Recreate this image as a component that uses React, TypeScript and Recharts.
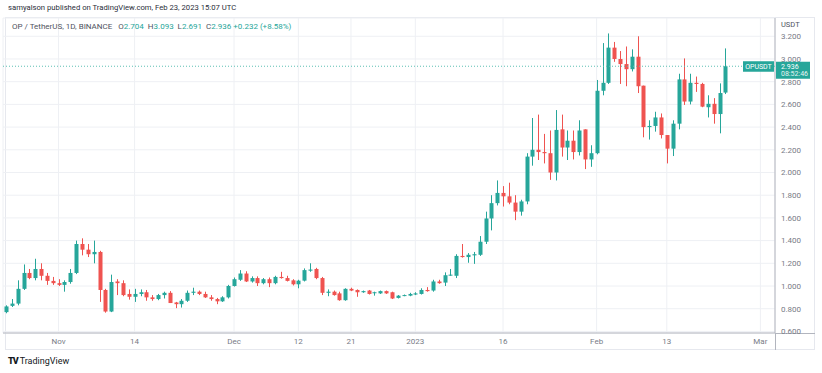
import React from "react";
import { ComposedChart, Bar, XAxis, YAxis, CartesianGrid, ReferenceLine } from "recharts";

// OP/USDT daily candles, Oct 23 2022 -> Feb 23 2023
const opens = [
  0.77, 0.825, 0.845, 0.975, 1.115, 1.07, 1.15, 1.09, 1.045, 1.025,
  1.01, 1.035, 1.115, 1.37, 1.32, 1.28, 1.3, 0.965, 0.775, 1.04,
  1.025, 0.93, 0.905, 0.93, 0.945, 0.9, 0.885, 0.92, 0.94, 0.855,
  0.84, 0.87, 0.94, 0.95, 0.93, 0.9, 0.885, 0.865, 0.9, 1.0,
  1.055, 1.11, 1.04, 1.07, 1.025, 1.06, 1.025, 1.08, 1.07, 1.05,
  1.015, 1.047, 1.135, 1.15, 1.07, 0.94, 0.95, 0.935, 0.875, 0.975,
  0.965, 0.945, 0.96, 0.94, 0.935, 0.955, 0.945, 0.895, 0.915, 0.915,
  0.925, 0.93, 0.965, 0.96, 1.04, 1.03, 1.095, 1.09, 1.265, 1.255,
  1.27, 1.275, 1.39, 1.595, 1.73, 1.82, 1.79, 1.735, 1.655, 1.745,
  2.14, 2.2, 2.18, 2.17, 2.0, 2.38, 2.22, 2.28, 2.18, 2.38,
  2.115, 2.17, 2.72, 2.79, 3.1, 3.0, 2.955, 2.91, 3.02, 2.765,
  2.4, 2.41, 2.485, 2.33, 2.21, 2.43, 2.82, 2.625, 2.79, 2.78,
  2.575, 2.605, 2.515, 2.704,
];
const highs = [
  0.83, 0.885, 1.05, 1.19, 1.15, 1.24, 1.2, 1.115, 1.08, 1.06,
  1.05, 1.15, 1.4, 1.42, 1.37, 1.4, 1.31, 0.975, 1.1, 1.06,
  1.05, 0.97, 0.975, 0.97, 0.965, 0.92, 0.93, 0.95, 0.955, 0.86,
  0.885, 0.96, 0.985, 0.96, 0.95, 0.92, 0.895, 0.91, 1.01, 1.075,
  1.14, 1.13, 1.085, 1.085, 1.07, 1.075, 1.09, 1.125, 1.09, 1.06,
  1.055, 1.155, 1.2, 1.16, 1.08, 0.97, 0.96, 0.95, 0.98, 0.985,
  0.97, 0.96, 0.965, 0.95, 0.96, 0.96, 0.95, 0.92, 0.925, 0.94,
  0.945, 0.98, 0.99, 1.055, 1.055, 1.12, 1.15, 1.28, 1.37, 1.29,
  1.3, 1.44, 1.655, 1.8, 1.93, 1.88, 1.91, 1.8, 1.76, 2.17,
  2.48, 2.51, 2.34, 2.37, 2.55, 2.51, 2.37, 2.37, 2.46, 2.38,
  2.24, 2.815, 3.14, 3.225, 3.15, 3.07, 3.11, 3.085, 3.2, 2.765,
  2.46, 2.535, 2.52, 2.33, 2.46, 2.87, 3.005, 2.87, 2.845, 2.79,
  2.68, 2.655, 2.785, 3.093,
];
const lows = [
  0.76, 0.815, 0.83, 0.965, 1.06, 1.05, 1.05, 1.01, 1.01, 1.0,
  0.95, 1.02, 1.105, 1.27, 1.255, 1.2, 0.86, 0.765, 0.77, 0.92,
  0.91, 0.88, 0.86, 0.91, 0.87, 0.87, 0.875, 0.89, 0.85, 0.805,
  0.81, 0.86, 0.92, 0.92, 0.895, 0.87, 0.84, 0.86, 0.89, 0.995,
  1.045, 1.035, 1.03, 1.0, 1.015, 0.99, 1.015, 1.065, 1.04, 1.005,
  0.98, 1.04, 1.125, 1.06, 0.92, 0.91, 0.915, 0.87, 0.87, 0.955,
  0.905, 0.94, 0.925, 0.915, 0.93, 0.93, 0.885, 0.89, 0.91, 0.91,
  0.92, 0.925, 0.95, 0.95, 1.02, 1.0, 1.09, 1.07, 1.25, 1.205,
  1.195, 1.265, 1.37, 1.49, 1.71, 1.7, 1.72, 1.58, 1.62, 1.72,
  2.06, 2.11, 2.08, 1.935, 1.93, 2.14, 2.11, 2.115, 2.15, 2.03,
  2.05, 2.16, 2.68, 2.78, 2.975, 2.78, 2.76, 2.89, 2.7, 2.31,
  2.29, 2.36, 2.3, 2.08, 2.145, 2.38, 2.595, 2.6, 2.71, 2.575,
  2.485, 2.43, 2.345, 2.691,
];
const closes = [
  0.82, 0.845, 0.975, 1.115, 1.07, 1.15, 1.09, 1.045, 1.025, 1.01,
  1.035, 1.115, 1.37, 1.32, 1.28, 1.3, 0.965, 0.775, 1.035, 1.025,
  0.92, 0.905, 0.93, 0.945, 0.9, 0.885, 0.92, 0.94, 0.85, 0.84,
  0.87, 0.94, 0.95, 0.93, 0.9, 0.885, 0.865, 0.9, 1.0, 1.06,
  1.11, 1.04, 1.07, 1.025, 1.06, 1.025, 1.08, 1.07, 1.045, 1.015,
  1.047, 1.14, 1.145, 1.07, 0.94, 0.95, 0.92, 0.875, 0.975, 0.96,
  0.945, 0.955, 0.93, 0.945, 0.955, 0.935, 0.89, 0.915, 0.92, 0.93,
  0.935, 0.965, 0.955, 1.04, 1.025, 1.095, 1.1, 1.265, 1.255, 1.275,
  1.28, 1.39, 1.595, 1.73, 1.82, 1.79, 1.735, 1.655, 1.745, 2.14,
  2.2, 2.18, 2.17, 2.0, 2.375, 2.22, 2.28, 2.18, 2.37, 2.115,
  2.17, 2.72, 2.79, 3.1, 3.0, 2.955, 2.91, 3.02, 2.76, 2.4,
  2.41, 2.485, 2.33, 2.21, 2.43, 2.82, 2.625, 2.79, 2.78, 2.58,
  2.605, 2.515, 2.7, 2.936,
];

const slotCount = 132; // empty days on the right up to the price axis
const xTicks = [9, 22, 39, 50, 59, 70, 85, 101, 113, 129];
const xTickLabels = ["Nov", "14", "Dec", "12", "21", "2023", "16", "Feb", "13", "Mar"];
const yTicks = [0.6, 0.8, 1.0, 1.2, 1.4, 1.6, 1.8, 2.0, 2.2, 2.4, 2.6, 2.8, 3.0, 3.2];
const lastPrice = 2.936;
const countdown = "08:52:46";

const GREEN = "#26a69a";
const RED = "#ef5350";
const FONT = "Roboto, 'Noto Sans', sans-serif";

const rows = Array.from({ length: slotCount }, (_, i) => ({
  i,
  o: opens[i],
  h: highs[i],
  l: lows[i],
  c: closes[i],
}));

function Candle(props: any) {
  const { x, y, width, height, payload } = props;
  if (payload == null || payload.o == null) return null;
  const { o, h, l, c } = payload;
  const color = c >= o ? GREEN : RED;
  const top = Math.min(y, y + height);
  const span = Math.abs(height);
  const k = span / (h - l || 1);
  const bodyTop = top + (h - Math.max(o, c)) * k;
  const bodyH = Math.max(1, Math.abs(o - c) * k);
  const cx = Math.round(x + width / 2) + 0.5;
  return (
    <g>
      <line x1={cx} x2={cx} y1={top} y2={top + span} stroke={color} strokeWidth={1} />
      <rect x={cx - 2} y={bodyTop} width={4} height={bodyH} fill={color} />
    </g>
  );
}

function PriceTag(props: any) {
  const { x, y, width } = props.viewBox;
  const right = x + width;
  return (
    <g fontFamily={FONT} fontSize={7}>
      <rect x={right - 32} y={y - 5} width={31} height={10.5} fill={GREEN} />
      <text x={right - 16.5} y={y + 0.5} fill="#fff" textAnchor="middle" dominantBaseline="middle">
        OPUSDT
      </text>
      <rect x={right + 1} y={y - 4.5} width={34} height={17} fill={GREEN} />
      <text x={right + 6} y={y + 0.5} fill="#fff" dominantBaseline="middle">
        {lastPrice.toFixed(3)}
      </text>
      <text x={right + 6} y={y + 8} fill="#e6f5f3" dominantBaseline="middle">
        {countdown}
      </text>
    </g>
  );
}

export default function App() {
  return (
    <div
      style={{
        position: "absolute",
        left: 0,
        top: 0,
        width: 822,
        height: 373,
        background: "#fff",
        fontFamily: FONT,
        overflow: "hidden",
      }}
    >
      <div style={{ position: "absolute", left: 8, top: 3, fontSize: 7.7, color: "#2a2e39", whiteSpace: "nowrap" }}>
        samyalson published on TradingView.com, Feb 23, 2023 15:07 UTC
      </div>
      <div
        style={{
          position: "absolute",
          left: 5,
          top: 17,
          width: 810,
          height: 333,
          border: "1px solid #e6e8ee",
          boxSizing: "border-box",
        }}
      />
      {/* axis lines continuing into the corner under the price scale */}
      <div style={{ position: "absolute", left: 775, top: 333, width: 40, height: 1, background: "#b2b5be" }} />
      <div style={{ position: "absolute", left: 775, top: 333, width: 1, height: 17, background: "#b2b5be" }} />

      <div style={{ position: "absolute", left: 0, top: 0 }}>
        <ComposedChart
          width={822}
          height={373}
          data={rows}
          margin={{ top: 18, right: 7, bottom: 22, left: 3 }}
          barCategoryGap={0}
        >
          <CartesianGrid stroke="#eef0f4" />
          <XAxis
            dataKey="i"
            type="category"
            ticks={xTicks}
            interval={0}
            tickFormatter={(v: number) => xTickLabels[xTicks.indexOf(v)] ?? ""}
            height={18}
            tickLine={false}
            tickSize={0}
            tickMargin={5}
            axisLine={{ stroke: "#b2b5be" }}
            tick={{ fontSize: 8, fill: "#787b86", fontFamily: FONT }}
          />
          <YAxis
            orientation="right"
            type="number"
            domain={[0.586, 3.361]}
            allowDataOverflow
            ticks={yTicks}
            interval={0}
            width={40}
            tickFormatter={(v: number) => v.toFixed(3)}
            tickLine={false}
            tickSize={0}
            tickMargin={6}
            axisLine={{ stroke: "#b2b5be" }}
            tick={{ fontSize: 8, fill: "#787b86", fontFamily: FONT }}
          />
          <Bar
            dataKey={(d: any) => (d.o == null ? undefined : [d.l, d.h])}
            shape={<Candle />}
            isAnimationActive={false}
          />
          <ReferenceLine
            y={lastPrice}
            stroke="#5cbfb4"
            strokeDasharray="1 2"
            label={<PriceTag />}
            {...({ zIndex: 2000 } as any)}
          />
        </ComposedChart>
      </div>

      <div style={{ position: "absolute", left: 781, top: 20, fontSize: 7.5, color: "#50535e" }}>USDT</div>

      <div style={{ position: "absolute", left: 12, top: 22, fontSize: 8, color: "#50535e", whiteSpace: "nowrap" }}>
        OP / TetherUS, 1D, BINANCE&nbsp;&nbsp;
        O<span style={{ color: GREEN }}>2.704</span>&nbsp;
        H<span style={{ color: GREEN }}>3.093</span>&nbsp;
        L<span style={{ color: GREEN }}>2.691</span>&nbsp;
        C<span style={{ color: GREEN }}>2.936</span>&nbsp;
        <span style={{ color: GREEN }}>+0.232 (+8.58%)</span>
      </div>

      <div
        style={{
          position: "absolute",
          left: 8,
          top: 356,
          fontSize: 9,
          color: "#131722",
          whiteSpace: "nowrap",
          display: "flex",
          alignItems: "center",
          gap: 2,
        }}
      >
        <span style={{ fontWeight: 900, fontSize: 9, letterSpacing: -1 }}>TV</span>
        <span>TradingView</span>
      </div>
    </div>
  );
}
